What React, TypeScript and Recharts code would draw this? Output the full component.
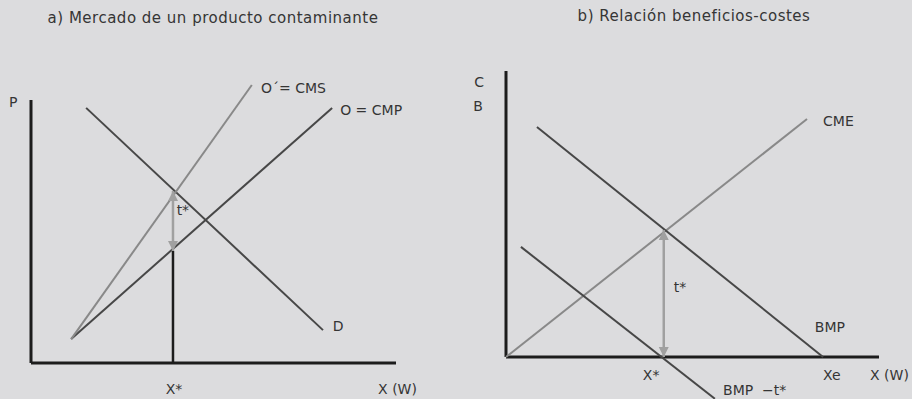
import React from 'react';
import { ComposedChart, Line, Scatter, XAxis, YAxis } from 'recharts';

// ---------- texts ----------
const leftTitle = 'a) Mercado de un producto contaminante';
const rightTitle = 'b) Relación beneficios-costes';

// ---------- panel a (economic units: axes run 0..100) ----------
const leftAxisY = [{ x: 0, y: 0 }, { x: 0, y: 100 }];
const leftAxisX = [{ x: 0, y: 0 }, { x: 100, y: 0 }];
const demandD = [{ x: 15.1, y: 97.0 }, { x: 80.0, y: 12.5 }];
const supplyCMP = [{ x: 11.0, y: 9.1 }, { x: 82.5, y: 97.0 }];
const supplyCMS = [{ x: 11.0, y: 9.1 }, { x: 60.5, y: 105.7 }];
const leftXStar = [{ x: 38.9, y: 0 }, { x: 38.9, y: 42.6 }];
const leftTax = [{ x: 38.9, y: 65.4 }, { x: 38.9, y: 42.6 }];
const leftArrowHeads = [
  { x: 38.9, y: 65.4, dir: 'up' },
  { x: 38.9, y: 42.6, dir: 'down' },
];
const leftLabels = [
  { x: -4.9, y: 99.2, text: 'P', anchor: 'middle' },
  { x: 63.0, y: 104.6, text: 'O\u00B4= CMS', anchor: 'start' },
  { x: 84.7, y: 96.2, text: 'O = CMP', anchor: 'start' },
  { x: 82.7, y: 14.2, text: 'D', anchor: 'start' },
  { x: 39.9, y: 58.2, text: 't*', anchor: 'start' },
  { x: 39.2, y: -9.9, text: 'X*', anchor: 'middle' },
  { x: 95.1, y: -9.9, text: 'X (W)', anchor: 'start' },
];

// ---------- panel b ----------
const rightAxisY = [{ x: 0, y: 0 }, { x: 0, y: 100 }];
const rightAxisX = [{ x: 0, y: 0 }, { x: 100, y: 0 }];
const costCME = [{ x: 0, y: 0 }, { x: 80.7, y: 83.2 }];
const benefitBMP = [{ x: 8.3, y: 80.4 }, { x: 85.0, y: 0 }];
const benefitBMPminusT = [{ x: 4.0, y: 38.5 }, { x: 56.0, y: -14.6 }];
const rightTax = [{ x: 42.3, y: 44.4 }, { x: 42.3, y: 0 }];
const rightArrowHeads = [
  { x: 42.3, y: 44.4, dir: 'up' },
  { x: 42.3, y: 0, dir: 'down' },
];
const rightLabels = [
  { x: -7.2, y: 96.2, text: 'C', anchor: 'middle' },
  { x: -7.5, y: 87.8, text: 'B', anchor: 'middle' },
  { x: 85.0, y: 82.5, text: 'CME', anchor: 'start' },
  { x: 82.8, y: 10.5, text: 'BMP', anchor: 'start' },
  { x: 45.0, y: 24.5, text: 't*', anchor: 'start' },
  { x: 38.9, y: -6.3, text: 'X*', anchor: 'middle' },
  { x: 85.0, y: -6.3, text: 'Xe', anchor: 'start' },
  { x: 97.6, y: -6.3, text: 'X (W)', anchor: 'start' },
  { x: 58.2, y: -11.5, text: 'BMP  \u2212t*', anchor: 'start' },
];

// ---------- layout / style ----------
const PANEL_W = 456;
const PANEL_H = 399;
const BG = '#dcdcde';
const TEXT = '#353535';
const FONT = '"DejaVu Sans", sans-serif';
const DARK = '#474747';
const LIGHT = '#898989';
const ARROW = '#a0a0a0';
const AXIS = '#1c1c1c';

type Pt = { x: number; y: number };

const ArrowHead = (props: any) => {
  const { cx, cy, payload } = props;
  if (cx == null || cy == null) return null;
  const s = payload.dir === 'up' ? 1 : -1;
  const pts = `${cx},${cy} ${cx - 5},${cy + s * 10} ${cx + 5},${cy + s * 10}`;
  return <polygon points={pts} fill={ARROW} />;
};

const TextMark = (props: any) => {
  const { cx, cy, payload } = props;
  if (cx == null || cy == null) return null;
  return (
    <text
      x={cx}
      y={cy}
      textAnchor={payload.anchor}
      dominantBaseline="central"
      fill={TEXT}
      fontSize={14}
      fontFamily={FONT}
      style={{ whiteSpace: 'pre' }}
    >
      {payload.text}
    </text>
  );
};

type Series = { data: Pt[]; stroke: string; width: number };

function Panel(props: {
  origin: { x: number; y: number };
  axisLen: { x: number; y: number };
  series: Series[];
  arrow: Pt[];
  heads: any[];
  labels: any[];
}) {
  const { origin, axisLen, series, arrow, heads, labels } = props;
  const ux = axisLen.x / 100;
  const uy = axisLen.y / 100;
  const xDomain = [-origin.x / ux, (PANEL_W - origin.x) / ux];
  const yDomain = [-(PANEL_H - origin.y) / uy, origin.y / uy];
  return (
    <ComposedChart
      width={PANEL_W}
      height={PANEL_H}
      margin={{ top: 0, right: 0, bottom: 0, left: 0 }}
    >
      <XAxis type="number" dataKey="x" domain={xDomain} allowDataOverflow hide />
      <YAxis type="number" dataKey="y" domain={yDomain} allowDataOverflow hide />
      {series.map((s, i) => (
        <Line
          key={i}
          data={s.data}
          dataKey="y"
          stroke={s.stroke}
          strokeWidth={s.width}
          dot={false}
          activeDot={false}
          isAnimationActive={false}
        />
      ))}
      <Line
        data={arrow}
        dataKey="y"
        stroke={ARROW}
        strokeWidth={2.5}
        dot={false}
        activeDot={false}
        isAnimationActive={false}
      />
      <Scatter data={heads} shape={ArrowHead} isAnimationActive={false} />
      <Scatter data={labels} shape={TextMark} isAnimationActive={false} />
    </ComposedChart>
  );
}

const titleStyle: React.CSSProperties = {
  position: 'absolute',
  width: 420,
  textAlign: 'center',
  fontSize: 15,
  letterSpacing: 0.5,
  lineHeight: '20px',
  color: TEXT,
  whiteSpace: 'nowrap',
};

export default function App() {
  return (
    <div
      style={{
        position: 'absolute',
        left: 0,
        top: 0,
        width: PANEL_W * 2,
        height: PANEL_H,
        background: BG,
        overflow: 'hidden',
        fontFamily: FONT,
      }}
    >
      <div style={{ position: 'absolute', left: 0, top: 0 }}>
        <Panel
          origin={{ x: 31, y: 363 }}
          axisLen={{ x: 365, y: 263 }}
          series={[
            { data: leftAxisY, stroke: AXIS, width: 3 },
            { data: leftAxisX, stroke: AXIS, width: 3 },
            { data: demandD, stroke: DARK, width: 2 },
            { data: supplyCMP, stroke: DARK, width: 2 },
            { data: supplyCMS, stroke: LIGHT, width: 2 },
            { data: leftXStar, stroke: AXIS, width: 2.5 },
          ]}
          arrow={leftTax}
          heads={leftArrowHeads}
          labels={leftLabels}
        />
      </div>
      <div style={{ position: 'absolute', left: PANEL_W, top: 0 }}>
        <Panel
          origin={{ x: 50, y: 357 }}
          axisLen={{ x: 373, y: 286 }}
          series={[
            { data: rightAxisY, stroke: AXIS, width: 3 },
            { data: rightAxisX, stroke: AXIS, width: 3 },
            { data: costCME, stroke: LIGHT, width: 2 },
            { data: benefitBMP, stroke: DARK, width: 2 },
            { data: benefitBMPminusT, stroke: DARK, width: 2 },
          ]}
          arrow={rightTax}
          heads={rightArrowHeads}
          labels={rightLabels}
        />
      </div>
      <div style={{ ...titleStyle, left: 3, top: 8 }}>{leftTitle}</div>
      <div style={{ ...titleStyle, left: 484, top: 6 }}>{rightTitle}</div>
    </div>
  );
}
